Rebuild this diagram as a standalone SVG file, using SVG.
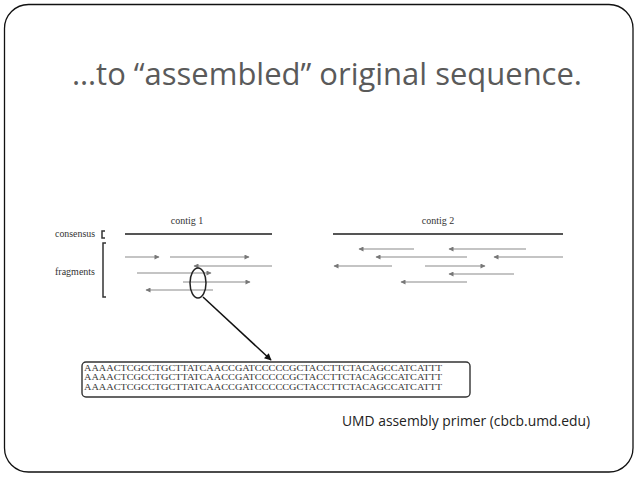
<svg xmlns="http://www.w3.org/2000/svg" width="638" height="479" viewBox="0 0 638 479">
<style>
.frag{stroke:#8a8a8a;stroke-width:1.2;fill:none}
.cons{stroke:#555;stroke-width:2.2;fill:none}
.lbl{font-family:"Liberation Serif",serif;font-size:10px;fill:#333}
.seq{font-family:"Liberation Serif",serif;font-size:8.3px;fill:#333}
</style>
<defs>
<marker id="ah" viewBox="0 0 10 10" refX="9" refY="5" markerWidth="9" markerHeight="5" markerUnits="userSpaceOnUse" orient="auto">
<path d="M0,0 L10,5 L0,10 z" fill="#777"/>
</marker>
<marker id="ahb" viewBox="0 0 10 10" refX="9" refY="5" markerWidth="8" markerHeight="7" markerUnits="userSpaceOnUse" orient="auto">
<path d="M0,0 L10,5 L0,10 z" fill="#111"/>
</marker>
</defs>
<rect width="638" height="479" fill="#fff"/>
<rect id="slide" x="4.5" y="4.5" width="628.5" height="467.5" rx="24" ry="24" fill="none" stroke="#111" stroke-width="1.3"/>
<g id="title"><text x="72" y="85" font-family="'Open Sans','Liberation Sans',sans-serif" font-size="31" fill="#5a5a5a" textLength="510" lengthAdjust="spacingAndGlyphs">…to “assembled” original sequence.</text></g>
<g id="labels">
<text class="lbl" x="187" y="224" text-anchor="middle">contig 1</text>
<text class="lbl" x="438" y="224" text-anchor="middle">contig 2</text>
<text class="lbl" x="55" y="237" textLength="40" lengthAdjust="spacingAndGlyphs">consensus</text>
<text class="lbl" x="55" y="275" textLength="40" lengthAdjust="spacingAndGlyphs">fragments</text>
<path d="M105,231 H102 V238 H105" fill="none" stroke="#333" stroke-width="1.5"/>
<path d="M106,243 H103 V297 H106" fill="none" stroke="#333" stroke-width="1.5"/>
</g>
<g id="contig1">
<line class="cons" x1="125" y1="234" x2="272" y2="234"/>
<line class="frag" x1="125" y1="257" x2="159" y2="257" marker-end="url(#ah)"/>
<line class="frag" x1="170" y1="257" x2="249" y2="257" marker-end="url(#ah)"/>
<line class="frag" x1="272" y1="266" x2="194" y2="266" marker-end="url(#ah)"/>
<line class="frag" x1="137" y1="273" x2="211" y2="273" marker-end="url(#ah)"/>
<line class="frag" x1="183" y1="282" x2="250" y2="282" marker-end="url(#ah)"/>
<line class="frag" x1="213" y1="290" x2="146" y2="290" marker-end="url(#ah)"/>
</g>
<g id="contig2">
<line class="cons" x1="333" y1="234" x2="563" y2="234"/>
<line class="frag" x1="414" y1="249" x2="359" y2="249" marker-end="url(#ah)"/>
<line class="frag" x1="526" y1="249" x2="449" y2="249" marker-end="url(#ah)"/>
<line class="frag" x1="467" y1="257" x2="376" y2="257" marker-end="url(#ah)"/>
<line class="frag" x1="563" y1="257" x2="494" y2="257" marker-end="url(#ah)"/>
<line class="frag" x1="392" y1="266" x2="334" y2="266" marker-end="url(#ah)"/>
<line class="frag" x1="425" y1="266" x2="485" y2="266" marker-end="url(#ah)"/>
<line class="frag" x1="514" y1="274" x2="449" y2="274" marker-end="url(#ah)"/>
<line class="frag" x1="467" y1="282" x2="401" y2="282" marker-end="url(#ah)"/>
</g>
<g id="zoom">
<ellipse cx="198" cy="283" rx="8" ry="15" fill="none" stroke="#222" stroke-width="1.5"/>
<line x1="203" y1="297" x2="271" y2="360" stroke="#111" stroke-width="1.5" marker-end="url(#ahb)"/>
</g>
<g id="sequence">
<rect x="82" y="362" width="388" height="35" rx="4" ry="4" fill="none" stroke="#333" stroke-width="1.4"/>
<text class="seq" x="84" y="370.5" textLength="358" lengthAdjust="spacingAndGlyphs">AAAACTCGCCTGCTTATCAACCGATCCCCCGCTACCTTCTACAGCCATCATTT</text>
<text class="seq" x="84" y="380" textLength="358" lengthAdjust="spacingAndGlyphs">AAAACTCGCCTGCTTATCAACCGATCCCCCGCTACCTTCTACAGCCATCATTT</text>
<text class="seq" x="84" y="389.5" textLength="358" lengthAdjust="spacingAndGlyphs">AAAACTCGCCTGCTTATCAACCGATCCCCCGCTACCTTCTACAGCCATCATTT</text>
</g>
<g id="caption"><text x="342" y="426" font-family="'Open Sans','Liberation Sans',sans-serif" font-size="14" fill="#222" textLength="248" lengthAdjust="spacingAndGlyphs">UMD assembly primer (cbcb.umd.edu)</text></g>
</svg>
